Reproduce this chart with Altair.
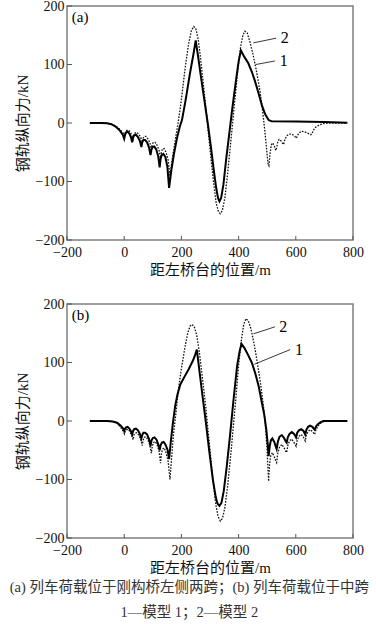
import altair as alt
import pandas as pd

# ---------------- data ----------------
# Panel (a) model 1 (solid)
a1_x = [-120, -80, -60, -45, -30, -15, -5, 0, 3, 7, 12, 18, 24, 28, 31, 35, 41, 48, 55, 60,
        63, 67, 73, 80, 87, 92, 95, 99, 105, 112, 119, 124, 127, 131, 137, 144, 151, 157,
        165, 175, 185, 195, 202, 215, 230, 243, 250, 258, 268, 280, 292, 303, 313, 322, 328,
        333, 339, 347, 357, 367, 378, 390, 400, 408, 420, 434, 446, 457, 469, 481, 493, 505,
        515, 600, 700, 780]
a1_y = [0, 0, -0.5, -2, -6, -13, -20, -27, -20, -16, -15, -18, -25, -33, -25, -21, -20, -24, -31, -41,
        -33, -29, -29, -33, -42, -55, -46, -41, -40, -45, -57, -76, -62, -55, -53, -58, -75, -111,
        -80, -50, -25, -5, 5, 40, 85, 120, 141, 115, 80, 40, 0, -40, -80, -112, -128,
        -134, -128, -105, -60, -20, 25, 70, 105, 124, 113, 102, 88, 72, 52, 31, 15, 5,
        3, 2.5, 1.5, 0.5]

# Panel (a) model 2 (dotted)
a2_x = [-120, -80, -60, -45, -30, -15, -5, 1, 4, 8, 14, 20, 26, 31, 34, 38, 44, 51, 58, 63,
        66, 70, 76, 83, 90, 95, 98, 102, 108, 115, 122, 127, 130, 134, 140, 147, 154, 160,
        170, 180, 190, 200, 212, 225, 235, 243, 250, 258, 266, 276, 288, 300, 312, 322, 330,
        336, 343, 352, 362, 373, 385, 397, 407, 415, 422, 430, 440, 450, 462, 475, 483, 492,
        498, 503, 506, 510, 514, 519, 524, 530, 533, 537, 542, 549, 557, 562, 568, 576, 586,
        595, 602, 606, 612, 620, 630, 640, 652, 656, 662, 670, 680, 692, 705, 720, 780]
a2_y = [0, 0, -0.5, -2, -5, -11, -16, -22, -16, -13, -12, -15, -20, -27, -20, -17, -16, -19, -25, -33,
        -26, -23, -23, -27, -34, -45, -37, -33, -33, -38, -47, -62, -50, -44, -44, -51, -64, -90,
        -55, -25, 5, 40, 90, 135, 158, 165, 162, 145, 115, 70, 15, -45, -100, -138, -152,
        -155, -150, -128, -85, -30, 30, 90, 130, 150, 157, 154, 138, 118, 90, 54, 25, -15,
        -45, -70, -73, -52, -38, -34, -38, -47, -42, -32, -28, -31, -37, -28, -22, -19, -19,
        -22, -26, -21, -17, -14, -15, -17, -20, -19, -12, -7, -4, -1.5, -0.5, 0, 0]

# Panel (b) model 1 (solid)
b1_x = [-120, -60, -40, -25, -12, -4, 0, 3, 7, 12, 18, 24, 28, 31, 35, 41, 48, 55, 60,
        63, 67, 73, 80, 87, 92, 95, 100, 106, 113, 119, 124, 127, 132, 138, 145, 152, 157,
        163, 170, 178, 186, 196, 210, 225, 240, 248, 254, 262, 272, 285, 297, 310, 320, 326,
        333, 340, 348, 358, 370, 382, 395, 404, 410, 420, 433, 446, 458, 470, 481, 490, 497,
        502, 505, 509, 513, 518, 525, 530, 533, 537, 543, 551, 559, 565, 568, 572, 578, 586,
        594, 599, 601, 605, 611, 619, 627, 633, 637, 643, 650, 658, 664, 666, 671, 678, 687,
        697, 780]
b1_y = [0, 0, -1, -3, -8, -13, -17, -13, -11, -10, -13, -18, -23, -17, -14, -13, -16, -22, -30,
        -24, -20, -20, -23, -31, -43, -34, -29, -28, -32, -40, -50, -42, -37, -36, -41, -50, -65,
        -35, -5, 25, 45, 62, 75, 88, 103, 113, 122, 90, 50, 0, -50, -100, -130, -141,
        -145, -140, -120, -80, -25, 35, 95, 120, 132, 125, 113, 100, 82, 60, 32, 10, -15,
        -40, -60, -42, -33, -30, -36, -44, -48, -36, -27, -24, -29, -35, -37, -28, -22, -19,
        -22, -26, -28, -20, -16, -14, -17, -23, -15, -10, -8, -10, -14, -15, -9, -5, -2,
        0, 0]

# Panel (b) model 2 (dotted)
b2_x = [-120, -60, -40, -25, -12, -4, 1, 4, 8, 14, 20, 26, 31, 34, 38, 44, 51, 58, 63,
        66, 70, 76, 83, 90, 95, 98, 102, 108, 115, 122, 127, 130, 134, 140, 147, 154, 160,
        166, 172, 180, 190, 200, 212, 222, 230, 237, 245, 253, 262, 272, 285, 298, 310, 320,
        328, 336, 344, 352, 362, 375, 388, 400, 410, 418, 426, 434, 443, 455, 467, 478, 487,
        494, 499, 503, 505, 508, 512, 518, 524, 530, 533, 537, 543, 551, 559, 565, 568, 572,
        578, 586, 594, 599, 601, 605, 611, 619, 627, 633, 637, 643, 650, 658, 664, 666, 671,
        680, 690, 700, 715, 780]
b2_y = [0, 0, -1, -4, -11, -17, -22, -17, -15, -14, -18, -25, -32, -24, -21, -20, -24, -32, -42,
        -33, -28, -27, -32, -42, -55, -44, -37, -35, -40, -52, -72, -56, -48, -46, -55, -70, -100,
        -60, -25, 10, 55, 90, 125, 150, 162, 165, 161, 148, 120, 80, 25, -40, -100, -142,
        -163, -171, -166, -148, -110, -45, 25, 95, 140, 165, 175, 171, 158, 130, 95, 60, 25,
        -10, -45, -85, -103, -75, -60, -54, -60, -68, -71, -55, -45, -40, -46, -52, -54, -42,
        -34, -31, -37, -41, -43, -33, -26, -23, -28, -34, -24, -18, -15, -18, -22, -23, -14,
        -7, -2.5, -0.5, 0, 0]

# tick values
x_ticks = [-200, 0, 200, 400, 600, 800]
y_ticks = [-200, -100, 0, 100, 200]

# curve labels: (label, leader start x, start y, end x, end y, text x, text y)
a_leaders = [("2", 452, 137, 531, 145, 547, 146), ("1", 460, 100, 527, 106, 544, 106)]
b_leaders = [("2", 452, 149, 527, 161, 542, 161), ("1", 455, 97, 580, 122, 597, 121)]

panel_names = ["(a)", "(b)"]
x_title = "距左桥台的位置/m"
y_title = "钢轨纵向力/kN"
caption = ["(a) 列车荷载位于刚构桥左侧两跨；(b) 列车荷载位于中跨", "1—模型 1；2—模型 2"]

SERIF = "'Liberation Serif', 'Times New Roman', serif"
MIXED = "'Liberation Serif', 'Noto Sans CJK SC', serif"
W, H = 286, 234


def panel(x1, y1, x2, y2, leaders, name):
    d1 = pd.DataFrame({"x": x1, "y": y1})
    d2 = pd.DataFrame({"x": x2, "y": y2})
    xs = alt.Scale(domain=[-200, 800], nice=False, zero=False)
    ys = alt.Scale(domain=[-200, 200], nice=False, zero=False)
    X = alt.X("x:Q", scale=xs,
              axis=alt.Axis(values=x_ticks, title=x_title, labelPadding=5, titlePadding=3,
                            labelFlush=False))
    Y = alt.Y("y:Q", scale=ys,
              axis=alt.Axis(values=y_ticks, title=y_title, labelPadding=3, titlePadding=5,
                            labelFlush=False))

    dotted = alt.Chart(d2).mark_line(color="#111", strokeWidth=1.3, strokeDash=[1.6, 1.4]).encode(
        x=X, y=Y, order="index:Q").transform_window(index="row_number()")
    solid = alt.Chart(d1).mark_line(color="#000", strokeWidth=2).encode(
        x=X, y=Y, order="index:Q").transform_window(index="row_number()")

    ld = pd.DataFrame([{"t": t, "x": a, "y": b, "x2": c, "y2": d, "tx": e, "ty": f}
                       for (t, a, b, c, d, e, f) in leaders])
    lead = alt.Chart(ld).mark_rule(color="#222", strokeWidth=0.9).encode(
        x=alt.X("x:Q", scale=xs), y=alt.Y("y:Q", scale=ys), x2="x2:Q", y2="y2:Q")
    lead_txt = alt.Chart(ld).mark_text(font=SERIF, fontSize=16, align="left",
                                       baseline="middle", color="#000").encode(
        x=alt.X("tx:Q", scale=xs), y=alt.Y("ty:Q", scale=ys), text="t:N")

    nm = alt.Chart(pd.DataFrame({"t": [name], "x": [-183], "y": [181]})).mark_text(
        font=SERIF, fontSize=15, align="left", baseline="middle", color="#000").encode(
        x=alt.X("x:Q", scale=xs), y=alt.Y("y:Q", scale=ys), text="t:N")

    xt = alt.Chart(pd.DataFrame({"v": x_ticks})).mark_rule(color="#555", strokeWidth=1).encode(
        x=alt.X("v:Q", scale=xs), y=alt.value(H), y2=alt.value(H - 4))
    yt = alt.Chart(pd.DataFrame({"v": y_ticks})).mark_rule(color="#555", strokeWidth=1).encode(
        y=alt.Y("v:Q", scale=ys), x=alt.value(0), x2=alt.value(5))

    return alt.layer(xt, yt, dotted, solid, lead, lead_txt, nm).properties(width=W, height=H)


pa = panel(a1_x, a1_y, a2_x, a2_y, a_leaders, panel_names[0])
pb = panel(b1_x, b1_y, b2_x, b2_y, b_leaders, panel_names[1])

chart = alt.vconcat(pa, pb, spacing=64, bounds="flush").properties(
    padding={"left": 9, "top": -2, "right": 0, "bottom": 0},
    title=alt.TitleParams(text=caption, orient="bottom", anchor="middle", fontSize=14.5,
                          font=MIXED, fontWeight="normal", color="#333", lineHeight=25,
                          offset=5),
).configure_view(stroke="#7f7f7f", strokeWidth=1.5).configure_axis(
    grid=False, domain=False, ticks=False,
    labelFont=SERIF, labelFontSize=14, labelColor="#111",
    titleFont=MIXED, titleFontSize=15, titleFontWeight="normal", titleColor="#111",
)

chart.save("out.html", embed_options={"renderer": "svg", "actions": False})
